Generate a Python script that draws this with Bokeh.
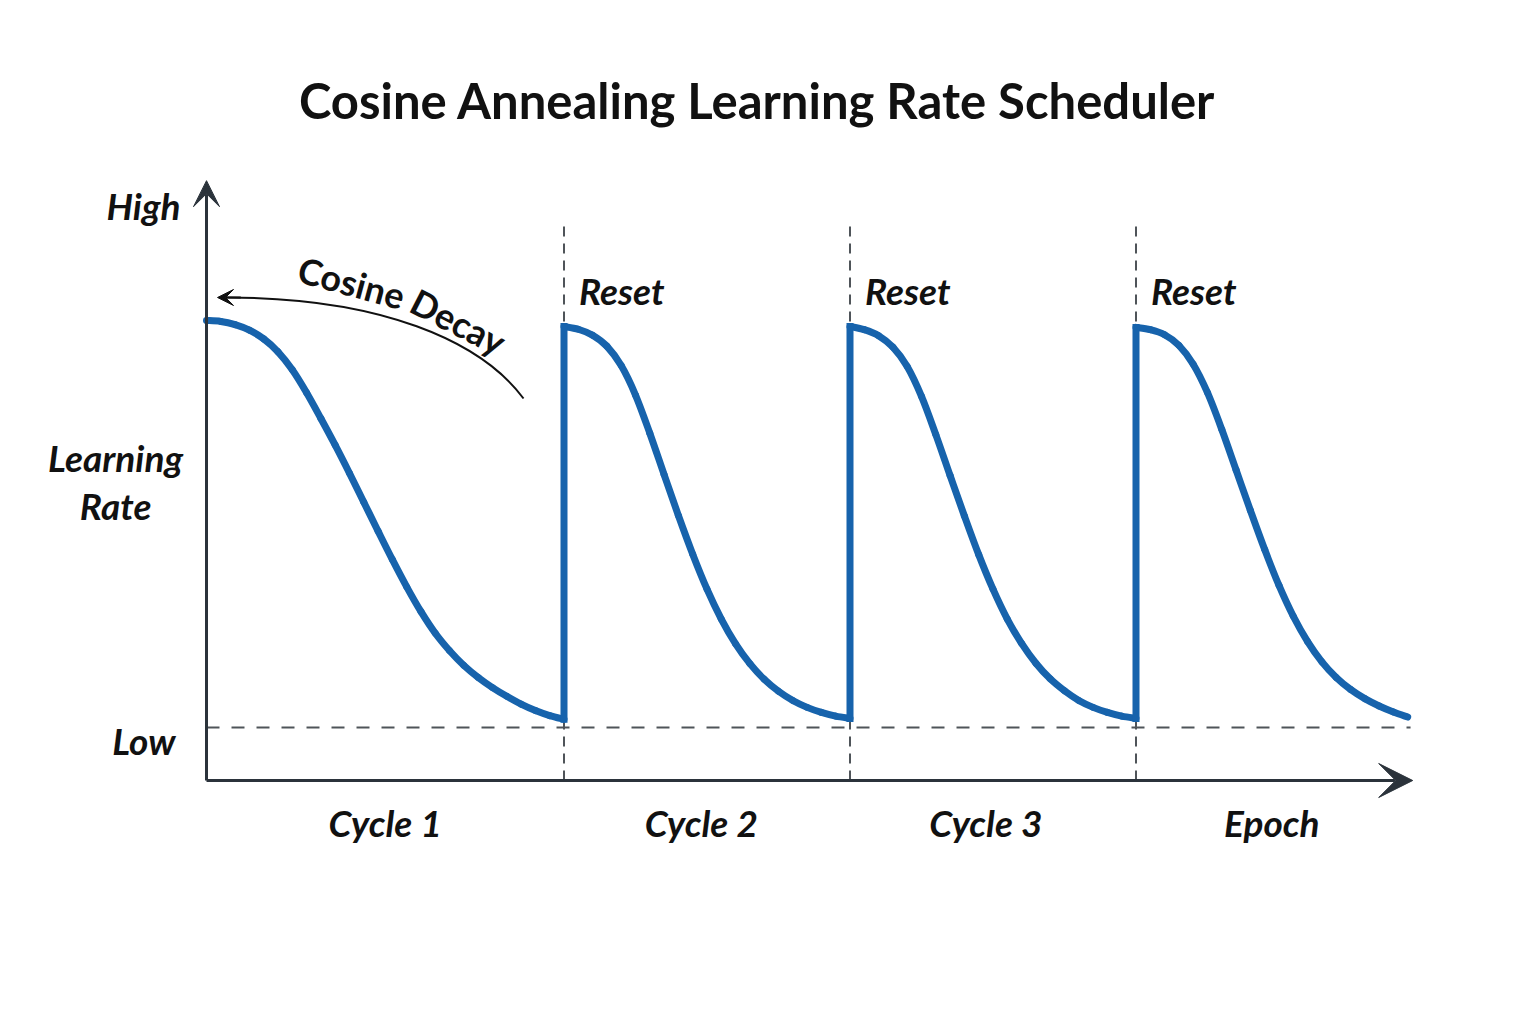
from bokeh.plotting import figure
from bokeh.models import Label, Arrow, VeeHead, Range1d
from bokeh.embed import file_html
from bokeh.resources import INLINE

# ---- schedule data (epoch vs. learning rate) ----
cycle_labels = ["Cycle 1", "Cycle 2", "Cycle 3", "Epoch"]
cycle_start = [0, 25, 45, 65]
cycle_end = [25, 45, 65, 84]

lr_cycle1 = [0.1000, 0.0998, 0.0991, 0.0979, 0.0960, 0.0932, 0.0893, 0.0843,
             0.0787, 0.0729, 0.0668, 0.0605, 0.0542, 0.0480, 0.0421, 0.0367,
             0.0320, 0.0282, 0.0250, 0.0224, 0.0202, 0.0183, 0.0166, 0.0152,
             0.0141, 0.0133]
lr_cycle2 = [0.0987, 0.0981, 0.0968, 0.0944, 0.0902, 0.0838, 0.0755, 0.0665,
             0.0576, 0.0492, 0.0416, 0.0351, 0.0297, 0.0254, 0.0220, 0.0194,
             0.0174, 0.0159, 0.0148, 0.0140, 0.0135]
lr_cycle3 = [0.0987, 0.0980, 0.0967, 0.0942, 0.0900, 0.0835, 0.0752, 0.0663,
             0.0575, 0.0491, 0.0416, 0.0351, 0.0298, 0.0255, 0.0221, 0.0195,
             0.0174, 0.0159, 0.0148, 0.0140, 0.0135]
lr_cycle4 = [0.0985, 0.0980, 0.0969, 0.0946, 0.0905, 0.0843, 0.0763, 0.0675,
             0.0587, 0.0502, 0.0424, 0.0357, 0.0302, 0.0258, 0.0224, 0.0198,
             0.0178, 0.0162, 0.0149, 0.0138]
lr_cycles = [lr_cycle1, lr_cycle2, lr_cycle3, lr_cycle4]

lr_floor = 0.0115          # eta_min reference level
lr_high_tick = 0.125       # where the "High" / "Low" tick labels sit
lr_low_tick = 0.0087
label_ticks = [12.5, 34.6, 54.5, 74.5]

# ---- styling ----
BLUE = "#1763ac"
AXIS = "#2b333b"
GUIDE = "#4f5459"
INK = "#111111"
FONT = "Lato"

p = figure(width=1536, height=1024, output_backend="svg", toolbar_location=None,
           title=None, x_axis_type=None, y_axis_type=None,
           x_range=Range1d(-14.406, 93.007), y_range=Range1d(-0.053043, 0.169565),
           min_border=0, background_fill_color="white", border_fill_color="white")
p.outline_line_color = None
p.grid.visible = False

# dashed guides: eta_min floor and cycle boundaries
p.segment(x0=[0], y0=[lr_floor], x1=[84.2], y1=[lr_floor],
          line_color=GUIDE, line_width=2, line_dash="13 12")
resets = cycle_start[1:]
p.segment(x0=resets, y0=[0] * len(resets), x1=resets, y1=[0.1217] * len(resets),
          line_color=GUIDE, line_width=2, line_dash="10 7")


def catmull_rom(xv, yv):
    """Cubic Bezier pieces that pass smoothly through every (x, y) point."""
    seg = {k: [] for k in ("x0", "y0", "x1", "y1", "cx0", "cy0", "cx1", "cy1")}
    n = len(xv)
    for i in range(n - 1):
        a, b = max(i - 1, 0), min(i + 2, n - 1)
        seg["x0"].append(xv[i]); seg["y0"].append(yv[i])
        seg["x1"].append(xv[i + 1]); seg["y1"].append(yv[i + 1])
        seg["cx0"].append(xv[i] + (xv[i + 1] - xv[a]) / 6)
        seg["cy0"].append(yv[i] + (yv[i + 1] - yv[a]) / 6)
        seg["cx1"].append(xv[i + 1] - (xv[b] - xv[i]) / 6)
        seg["cy1"].append(yv[i + 1] - (yv[b] - yv[i]) / 6)
    return seg


# learning-rate curve, one smooth decay per cycle
for s, e, lrs in zip(cycle_start, cycle_end, lr_cycles):
    epochs = list(range(s, e + 1))
    p.bezier(**catmull_rom(epochs, lrs), line_color=BLUE, line_width=7,
             line_cap="round")

# warm restarts: jump from the end of one cycle to the start of the next
p.segment(x0=resets, x1=resets,
          y0=[lrs[-1] for lrs in lr_cycles[:-1]],
          y1=[lrs[0] for lrs in lr_cycles[1:]],
          line_color=BLUE, line_width=7, line_cap="square")

# axis arrows
p.add_layout(Arrow(end=VeeHead(size=26, fill_color=AXIS, line_color=AXIS),
                   x_start=0, y_start=0, x_end=0, y_end=0.1304,
                   line_color=AXIS, line_width=3))
p.add_layout(Arrow(end=VeeHead(size=34, fill_color=AXIS, line_color=AXIS),
                   x_start=0, y_start=0, x_end=84.35, y_end=0,
                   line_color=AXIS, line_width=3))

label_style = dict(text_font=FONT, text_font_style="bold italic",
                   text_font_size="37px", text_color=INK)

# axis tick labels
p.add_layout(Label(x=0, y=lr_high_tick, x_offset=-26, text="High", text_align="right",
                   text_baseline="middle", **label_style))
p.add_layout(Label(x=0, y=lr_low_tick, x_offset=-31, text="Low", text_align="right",
                   text_baseline="middle", **label_style))
for t, name in zip(label_ticks, cycle_labels):
    p.add_layout(Label(x=t, y=-0.0092, text=name, text_align="center",
                       text_baseline="middle", **label_style))

# "Cosine Decay" curved arrow
p.bezier(x0=[22.17], y0=[0.08304], x1=[1.40], y1=[0.10500],
         cx0=[19.16], cy0=[0.09565], cx1=[12.17], cy1=[0.10500],
         line_color=INK, line_width=2)
p.add_layout(Arrow(end=VeeHead(size=16, fill_color=INK, line_color=INK),
                   x_start=2.4, y_start=0.10500, x_end=0.77, y_end=0.10500,
                   line_color=INK, line_width=2))
p.add_layout(Label(x=10.15, y=0.10830, text="Cosine", angle=-15, angle_units="deg",
                   text_align="center", text_baseline="middle", text_font=FONT,
                   text_font_style="bold", text_font_size="36px", text_color=INK))
p.add_layout(Label(x=17.62, y=0.09980, text="Decay", angle=-27, angle_units="deg",
                   text_align="center", text_baseline="middle", text_font=FONT,
                   text_font_style="bold", text_font_size="36px", text_color=INK))

# restart markers
for r in resets:
    p.add_layout(Label(x=r, y=0.10652, x_offset=15, text="Reset", text_align="left",
                       text_baseline="middle", **label_style))

# y-axis caption
p.add_layout(Label(x=-6.36, y=0.0650, text="Learning\nRate", text_align="center",
                   text_baseline="middle", text_line_height=1.08, **label_style))

# title
p.add_layout(Label(x=38.53, y=0.14783, text="Cosine Annealing Learning Rate Scheduler",
                   text_align="center", text_baseline="middle", text_font=FONT,
                   text_font_style="bold", text_font_size="49px", text_color=INK))

open("out.html", "w").write(file_html(p, INLINE))
